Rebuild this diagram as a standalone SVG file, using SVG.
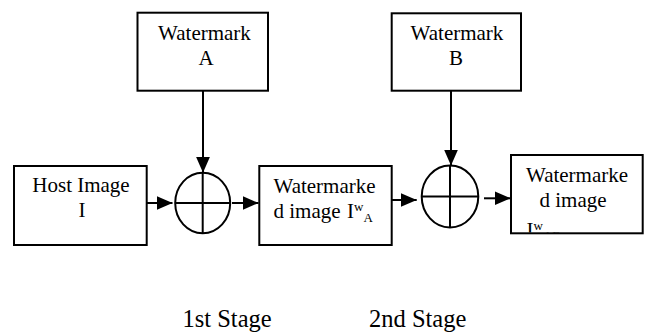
<svg xmlns="http://www.w3.org/2000/svg" width="646" height="333" viewBox="0 0 646 333" font-family="'Liberation Serif', Tinos, 'Times New Roman', Times, serif">
  <style>
    .box { fill: #ffffff; stroke: #000000; stroke-width: 2; }
    .sum { fill: none; stroke: #000000; stroke-width: 2; }
    .wire { fill: none; stroke: #000000; stroke-width: 2; }
    .lbl { font-size: 21px; fill: #000000; }
    .stage { font-size: 24.5px; fill: #000000; }
    .sm { font-size: 13px; }
  </style>
  <defs>
    <marker id="head" markerUnits="userSpaceOnUse" markerWidth="17" markerHeight="17" viewBox="0 0 17 17" refX="16" refY="8.5" orient="auto">
      <path d="M0,1.5 L16,8.5 L0,15.5 Z" fill="#000000"/>
    </marker>
    <clipPath id="clipC">
      <rect x="511" y="155" width="132" height="77.5"/>
    </clipPath>
  </defs>

  <!-- blocks -->
  <g id="watermark-a">
    <rect class="box" x="137.5" y="12.7" width="130.5" height="78"/>
    <text class="lbl" x="204.5" y="40" text-anchor="middle">Watermark</text>
    <text class="lbl" x="206" y="65" text-anchor="middle">A</text>
  </g>

  <g id="watermark-b">
    <rect class="box" x="391.7" y="13.3" width="129.3" height="77.4"/>
    <text class="lbl" x="457" y="40" text-anchor="middle">Watermark</text>
    <text class="lbl" x="456" y="65" text-anchor="middle">B</text>
  </g>

  <g id="host-image">
    <rect class="box" x="14" y="166" width="132.7" height="79"/>
    <text class="lbl" x="81" y="191.7" text-anchor="middle">Host Image</text>
    <text class="lbl" x="82" y="216.7" text-anchor="middle">I</text>
  </g>

  <g id="adder-1">
    <ellipse class="sum" cx="202.7" cy="203" rx="27.5" ry="30.3"/>
    <line class="sum" x1="175.2" y1="203" x2="230.2" y2="203"/>
    <line class="sum" x1="202.7" y1="172.7" x2="202.7" y2="233.3"/>
  </g>

  <g id="watermarked-a">
    <rect class="box" x="259.3" y="166" width="132.4" height="79"/>
    <text class="lbl" x="273.5" y="193.3">Watermarke</text>
    <text class="lbl" x="273.5" y="217.5">d image</text>
    <text class="lbl" x="347" y="217.5">I<tspan class="sm" dy="-7">w</tspan><tspan class="sm" dy="11">A</tspan></text>
  </g>

  <g id="adder-2">
    <ellipse class="sum" cx="450" cy="196.5" rx="28.3" ry="31"/>
    <line class="sum" x1="421.7" y1="196.5" x2="478.3" y2="196.5"/>
    <line class="sum" x1="450" y1="165.5" x2="450" y2="227.5"/>
  </g>

  <g id="watermarked-ab">
    <rect class="box" x="511" y="155" width="131.7" height="78.3"/>
    <g clip-path="url(#clipC)">
      <text class="lbl" x="526" y="181.5">Watermarke</text>
      <text class="lbl" x="573" y="207" text-anchor="middle">d image</text>
      <text class="lbl" x="526.5" y="237">I<tspan class="sm" dy="-7">w</tspan><tspan class="sm" dy="10">AB</tspan></text>
    </g>
  </g>

  <!-- signal flow -->
  <g id="connectors">
    <line class="wire" x1="203" y1="90.7" x2="203" y2="172.7" marker-end="url(#head)"/>
    <line class="wire" x1="146.7" y1="203" x2="172.5" y2="203" marker-end="url(#head)"/>
    <line class="wire" x1="232" y1="203" x2="258.5" y2="203" marker-end="url(#head)"/>
    <line class="wire" x1="391.7" y1="200" x2="416.7" y2="200" marker-end="url(#head)"/>
    <line class="wire" x1="451" y1="90.7" x2="451" y2="165.5" marker-end="url(#head)"/>
    <line class="wire" x1="484" y1="198.3" x2="510.5" y2="198.3" marker-end="url(#head)"/>
  </g>

  <g id="stage-labels">
    <text class="stage" x="182.5" y="326.7">1st Stage</text>
    <text class="stage" x="369" y="326.7">2nd Stage</text>
  </g>
</svg>
